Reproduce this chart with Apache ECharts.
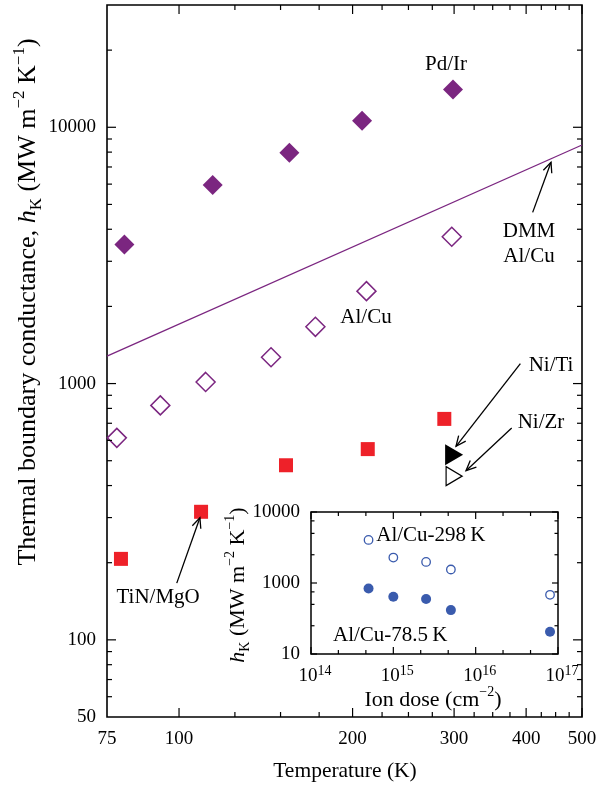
<!DOCTYPE html>
<html>
<head>
<meta charset="utf-8">
<script src="https://cdn.jsdelivr.net/npm/echarts@6/dist/echarts.min.js"></script>
<style>
  html, body { margin: 0; padding: 0; background: #fff; }
  #chart { width: 610px; height: 786px; }
</style>
</head>
<body>
<div id="chart"></div>
<script>
// ---- Main panel: thermal boundary conductance vs temperature ----
const pdIrTemps = [80.4, 114.4, 155.4, 207.7, 298.7];
const pdIrValues = [3490, 5950, 7960, 10600, 14050];

const alCuTemps = [78.0, 92.8, 111.2, 144.4, 172.4, 211.4, 297.2];
const alCuValues = [614, 822, 1015, 1267, 1665, 2294, 3740];

const tinMgoTemps = [79.3, 109.2, 153.3, 212.5, 288.5];
const tinMgoValues = [207, 316, 480, 555, 728];

const niTiTemps = [300];
const niTiValues = [527];
const niZrTemps = [300];
const niZrValues = [435];

// DMM prediction for Al/Cu (straight on log-log axes)
const dmmTemps = [75, 500];
const dmmValues = [1280, 8530];

// main axis ticks and labels
const mainXRange = [75, 500];
const mainYRange = [50, 30000];
const mainXTickLabels = [75, 100, 200, 300, 400, 500];
const mainXMajorTicks = [100, 200, 300, 400, 500];
const mainXMinorTicks = [125, 150, 175, 225, 250, 275, 325, 350, 375, 425, 450, 475];
const mainYTickLabels = [50, 100, 1000, 10000];
const mainYMajorTicks = [100, 1000, 10000];
const mainYMinorTicks = [60, 70, 80, 90, 200, 300, 400, 500, 600, 700, 800, 900,
  2000, 3000, 4000, 5000, 6000, 7000, 8000, 9000, 20000];

// annotation texts and where they sit (temperature, conductance)
const noteTexts = ['Pd/Ir', 'DMM\nAl/Cu', 'Al/Cu', 'Ni/Ti', 'Ni/Zr', 'TiN/MgO'];
const noteTemps = [290.5, 404.6, 211, 441.8, 424.4, 92.0];
const noteValues = [17620, 3508, 1816, 1176, 702, 146];

// pointer arrows: tail (T, h) -> head (T, h)
const arrowTailTemps = [410.6, 390.9, 377.6, 99.1];
const arrowTailValues = [4656, 1197, 671, 166.5];
const arrowHeadTemps = [441.8, 302.3, 314.6, 108.7];
const arrowHeadValues = [7300, 569, 457, 299.6];

// ---- Inset: conductance vs ion dose ----
const doses = [5e14, 1e15, 2.5e15, 5e15, 8e16];
const alCu298Values = [4040, 2280, 1980, 1550, 682];
const alCu785Values = [837, 640, 596, 415, 206];

const insetXRange = [1e14, 1e17];
const insetYRange = [100, 10000];
const insetXTickValues = [1e14, 1e15, 1e16, 1e17];
const insetXTickExponents = ['14', '15', '16', '17'];
const insetXMinorTicks = [2.15e14, 4.64e14, 2.15e15, 4.64e15, 2.15e16, 4.64e16];
const insetYTickValues = [100, 1000, 10000];
const insetYTickLabels = ['10', '1000', '10000'];
const insetYMinorTicks = [250, 500, 750, 2500, 5000, 7500];

const insetNoteTexts = ['Al/Cu-298\u2009K', 'Al/Cu-78.5\u2009K'];
const insetNoteDoses = [6.2e14, 1.85e14];
const insetNoteValues = [4740, 185];

const FONT = "'Liberation Serif', 'Times New Roman', serif";
const PURPLE = '#7B2680';
const RED = '#EE2129';
const BLUE = '#3A5BAD';
const NUM_SIZE = 19;
const NOTE_SIZE = 21;

function pairs(xs, ys) { return xs.map((x, i) => [x, ys[i]]); }

// tick marks drawn inward on both opposite edges of a grid
function tickSeries(idx, dim, values, len, xExt, yExt) {
  return {
    type: 'custom', xAxisIndex: idx, yAxisIndex: idx, silent: true, clip: false, z: 6,
    data: values.map(v => dim === 'x' ? [v, yExt[0]] : [xExt[0], v]),
    renderItem: (params, api) => {
      const st = () => ({ stroke: '#000', lineWidth: 1.2 });
      if (dim === 'x') {
        const v = api.value(0);
        const a = api.coord([v, yExt[0]]);
        const b = api.coord([v, yExt[1]]);
        return { type: 'group', children: [
          { type: 'line', shape: { x1: a[0], y1: a[1], x2: a[0], y2: a[1] - len }, style: st() },
          { type: 'line', shape: { x1: b[0], y1: b[1], x2: b[0], y2: b[1] + len }, style: st() }
        ] };
      }
      const v = api.value(1);
      const a = api.coord([xExt[0], v]);
      const b = api.coord([xExt[1], v]);
      return { type: 'group', children: [
        { type: 'line', shape: { x1: a[0], y1: a[1], x2: a[0] + len, y2: a[1] }, style: st() },
        { type: 'line', shape: { x1: b[0], y1: b[1], x2: b[0] - len, y2: b[1] }, style: st() }
      ] };
    }
  };
}

// tick labels placed outside the axis
function tickLabelSeries(idx, dim, values, texts, gap, xExt, yExt, rich, dx) {
  return {
    type: 'custom', xAxisIndex: idx, yAxisIndex: idx, silent: true, clip: false, z: 6,
    data: values.map(v => dim === 'x' ? [v, yExt[0]] : [xExt[0], v]),
    renderItem: (params, api) => {
      const i = params.dataIndex;
      const style = { text: texts[i], fontSize: NUM_SIZE, fontFamily: FONT, fill: '#000', verticalAlign: 'middle' };
      if (rich) style.rich = rich;
      if (dim === 'x') {
        const p = api.coord([values[i], yExt[0]]);
        style.align = 'center';
        return { type: 'text', x: p[0] + (dx || 0), y: p[1] + gap, style };
      }
      const p = api.coord([xExt[0], values[i]]);
      style.align = 'right';
      return { type: 'text', x: p[0] - gap, y: p[1], style };
    }
  };
}

function noteSeries(idx, xs, ys, texts, align) {
  return {
    type: 'custom', xAxisIndex: idx, yAxisIndex: idx, silent: true, clip: false, z: 7,
    data: pairs(xs, ys),
    renderItem: (params, api) => {
      const p = api.coord([api.value(0), api.value(1)]);
      return { type: 'text', x: p[0], y: p[1], style: {
        text: texts[params.dataIndex], fontSize: NOTE_SIZE, lineHeight: 25, fontFamily: FONT,
        fill: '#000', align: align, verticalAlign: 'middle' } };
    }
  };
}

function arrowSeries() {
  return {
    type: 'custom', xAxisIndex: 0, yAxisIndex: 0, silent: true, clip: false, z: 7,
    encode: { x: [0, 2], y: [1, 3] },
    data: arrowTailTemps.map((t, i) => [t, arrowTailValues[i], arrowHeadTemps[i], arrowHeadValues[i]]),
    renderItem: (params, api) => {
      const a = api.coord([api.value(0), api.value(1)]);
      const b = api.coord([api.value(2), api.value(3)]);
      const ang = Math.atan2(b[1] - a[1], b[0] - a[0]);
      const L = 11, w = 0.42;
      const h1 = [b[0] - L * Math.cos(ang - w), b[1] - L * Math.sin(ang - w)];
      const h2 = [b[0] - L * Math.cos(ang + w), b[1] - L * Math.sin(ang + w)];
      return { type: 'group', children: [
        { type: 'line', shape: { x1: a[0], y1: a[1], x2: b[0], y2: b[1] }, style: { stroke: '#000', lineWidth: 1.3 } },
        { type: 'polyline', shape: { points: [h1, b, h2] }, style: { stroke: '#000', lineWidth: 1.3, fill: null } }
      ] };
    }
  };
}

// rich styles for titles with italic symbol, subscript and superscripts
function unitRich(size) {
  return {
    n: { fontSize: size, fontFamily: FONT, lineHeight: Math.round(size * 1.3), verticalAlign: 'middle' },
    i: { fontSize: size, fontFamily: FONT, fontStyle: 'italic', lineHeight: Math.round(size * 1.3), verticalAlign: 'middle' },
    sub: { fontSize: Math.round(size * 0.65), fontFamily: FONT, lineHeight: Math.round(size * 0.7), verticalAlign: 'bottom' },
    sup: { fontSize: Math.round(size * 0.65), fontFamily: FONT, lineHeight: Math.round(size * 0.6), verticalAlign: 'top' }
  };
}
const unitText = '{i|h}{sub|K}{n| (MW m}{sup|\u22122}{n| K}{sup|\u22121}{n|)}';

const powRich = {
  b: { fontSize: NUM_SIZE, fontFamily: FONT, lineHeight: 24, verticalAlign: 'middle' },
  s: { fontSize: 14, fontFamily: FONT, lineHeight: 10, verticalAlign: 'top' }
};

const chart = echarts.init(document.getElementById('chart'), null, { renderer: 'canvas' });

const hiddenAxis = {
  axisLine: { show: false }, axisTick: { show: false },
  axisLabel: { show: false }, splitLine: { show: false }
};

chart.setOption({
  animation: false,
  backgroundColor: '#fff',
  grid: [
    { left: 107, top: 5, width: 475, height: 712, show: true, borderColor: '#000', borderWidth: 1.6, backgroundColor: 'transparent' },
    { left: 311, top: 512, width: 247, height: 142, show: true, borderColor: '#000', borderWidth: 1.5, backgroundColor: '#fff' }
  ],
  xAxis: [
    Object.assign({ type: 'log', gridIndex: 0, min: mainXRange[0], max: mainXRange[1] }, hiddenAxis),
    Object.assign({ type: 'log', gridIndex: 1, min: insetXRange[0], max: insetXRange[1] }, hiddenAxis)
  ],
  yAxis: [
    Object.assign({ type: 'log', gridIndex: 0, min: mainYRange[0], max: mainYRange[1] }, hiddenAxis),
    Object.assign({ type: 'log', gridIndex: 1, min: insetYRange[0], max: insetYRange[1] }, hiddenAxis)
  ],
  graphic: [
    { type: 'text', x: 345, y: 771, style: { text: 'Temperature (K)', fontSize: 21.5, fontFamily: FONT, fill: '#000', align: 'center', verticalAlign: 'middle' } },
    { type: 'text', x: 28, y: 302, rotation: Math.PI / 2, style: {
      text: '{n|Thermal boundary conductance, }' + unitText, rich: unitRich(26),
      fill: '#000', align: 'center', verticalAlign: 'middle' } },
    { type: 'text', x: 433, y: 700, style: {
      text: '{n|Ion dose (cm}{sup|\u22122}{n|)}', rich: unitRich(22),
      fill: '#000', align: 'center', verticalAlign: 'middle' } },
    { type: 'text', x: 238, y: 585, rotation: Math.PI / 2, style: {
      text: unitText, rich: unitRich(22), fill: '#000', align: 'center', verticalAlign: 'middle' } }
  ],
  series: [
    {
      name: 'DMM Al/Cu', type: 'line', xAxisIndex: 0, yAxisIndex: 0, z: 1,
      data: pairs(dmmTemps, dmmValues), symbol: 'none',
      lineStyle: { color: PURPLE, width: 1.3 }
    },
    {
      name: 'Pd/Ir', type: 'scatter', xAxisIndex: 0, yAxisIndex: 0,
      data: pairs(pdIrTemps, pdIrValues), symbol: 'diamond', symbolSize: 20,
      itemStyle: { color: PURPLE, opacity: 1 }
    },
    {
      name: 'Al/Cu', type: 'scatter', xAxisIndex: 0, yAxisIndex: 0,
      data: pairs(alCuTemps, alCuValues), symbol: 'diamond', symbolSize: 19,
      itemStyle: { color: '#fff', borderColor: PURPLE, borderWidth: 1.5, opacity: 1 }
    },
    {
      name: 'TiN/MgO', type: 'scatter', xAxisIndex: 0, yAxisIndex: 0,
      data: pairs(tinMgoTemps, tinMgoValues), symbol: 'rect', symbolSize: 14,
      itemStyle: { color: RED, opacity: 1 }
    },
    {
      name: 'Ni/Ti', type: 'scatter', xAxisIndex: 0, yAxisIndex: 0,
      data: pairs(niTiTemps, niTiValues), symbol: 'triangle', symbolSize: [21, 18], symbolRotate: -90,
      itemStyle: { color: '#000', opacity: 1 }
    },
    {
      name: 'Ni/Zr', type: 'scatter', xAxisIndex: 0, yAxisIndex: 0,
      data: pairs(niZrTemps, niZrValues), symbol: 'triangle', symbolSize: [19, 16], symbolRotate: -90,
      itemStyle: { color: '#fff', borderColor: '#000', borderWidth: 1.3, opacity: 1 }
    },
    {
      name: 'Al/Cu-298 K', type: 'scatter', xAxisIndex: 1, yAxisIndex: 1,
      data: pairs(doses, alCu298Values), symbol: 'circle', symbolSize: 8.5,
      itemStyle: { color: '#fff', borderColor: BLUE, borderWidth: 1.3, opacity: 1 }
    },
    {
      name: 'Al/Cu-78.5 K', type: 'scatter', xAxisIndex: 1, yAxisIndex: 1,
      data: pairs(doses, alCu785Values), symbol: 'circle', symbolSize: 10,
      itemStyle: { color: BLUE, opacity: 1 }
    },
    // main axes ticks and labels
    tickSeries(0, 'x', mainXMajorTicks, 9, mainXRange, mainYRange),
    tickSeries(0, 'x', mainXMinorTicks, 5, mainXRange, mainYRange),
    tickSeries(0, 'y', mainYMajorTicks, 9, mainXRange, mainYRange),
    tickSeries(0, 'y', mainYMinorTicks, 5, mainXRange, mainYRange),
    tickLabelSeries(0, 'x', mainXTickLabels, mainXTickLabels.map(String), 22, mainXRange, mainYRange),
    tickLabelSeries(0, 'y', mainYTickLabels, mainYTickLabels.map(String), 11, mainXRange, mainYRange),
    // inset axes ticks and labels
    tickSeries(1, 'x', insetXTickValues, 7, insetXRange, insetYRange),
    tickSeries(1, 'x', insetXMinorTicks, 4, insetXRange, insetYRange),
    tickSeries(1, 'y', insetYTickValues, 6, insetXRange, insetYRange),
    tickSeries(1, 'y', insetYMinorTicks, 3.5, insetXRange, insetYRange),
    tickLabelSeries(1, 'x', insetXTickValues, insetXTickExponents.map(e => '{b|10}{s|' + e + '}'), 22, insetXRange, insetYRange, powRich, 4),
    tickLabelSeries(1, 'y', insetYTickValues, insetYTickLabels, 11, insetXRange, insetYRange),
    // annotations
    noteSeries(0, noteTemps, noteValues, noteTexts, 'center'),
    noteSeries(1, insetNoteDoses, insetNoteValues, insetNoteTexts, 'left'),
    arrowSeries()
  ]
});
</script>
</body>
</html>
